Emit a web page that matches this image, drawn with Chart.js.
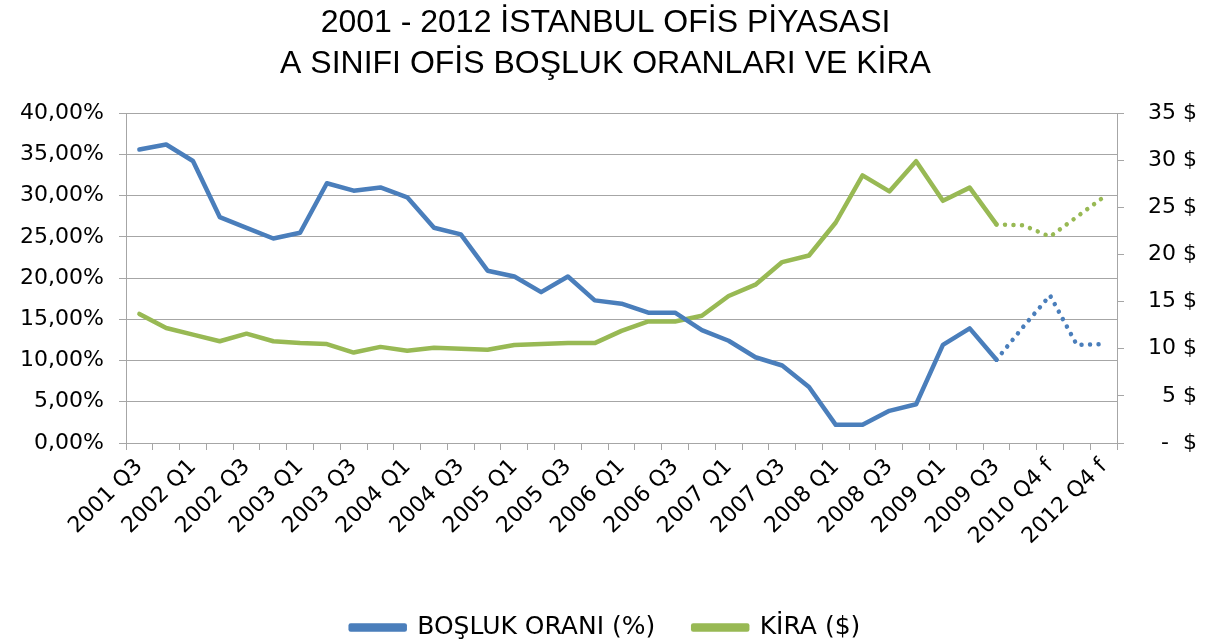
<!DOCTYPE html>
<html>
<head>
<meta charset="utf-8">
<script src="https://cdn.jsdelivr.net/npm/chart.js@4.4.1/dist/chart.umd.min.js"></script>
<style>
  html, body { margin: 0; padding: 0; background: #fff; }
  #wrap { width: 1211px; height: 641px; }
</style>
</head>
<body>
<div id="wrap"><canvas id="chart" width="1211" height="641"></canvas></div>
<script>
// quarters (every other label is shown on the axis)
const quarters = [
  '2001 Q3', '2001 Q4', '2002 Q1', '2002 Q2', '2002 Q3', '2002 Q4',
  '2003 Q1', '2003 Q2', '2003 Q3', '2003 Q4', '2004 Q1', '2004 Q2',
  '2004 Q3', '2004 Q4', '2005 Q1', '2005 Q2', '2005 Q3', '2005 Q4',
  '2006 Q1', '2006 Q2', '2006 Q3', '2006 Q4', '2007 Q1', '2007 Q2',
  '2007 Q3', '2007 Q4', '2008 Q1', '2008 Q2', '2008 Q3', '2008 Q4',
  '2009 Q1', '2009 Q2', '2009 Q3', '2009 Q4 f', '2010 Q4 f', '2011 Q4 f',
  '2012 Q4 f'
];

// BOŞLUK ORANI (%) - left axis
const vacancy = [
  35.6, 36.2, 34.2, 27.4, 26.1, 24.8, 25.5, 31.5, 30.6, 31.0, 29.8, 26.1,
  25.3, 20.9, 20.2, 18.3, 20.2, 17.3, 16.9, 15.8, 15.8, 13.7, 12.4, 10.4,
  9.4, 6.8, 2.2, 2.2, 3.9, 4.7, 11.9, 13.9, 10.1, 14.1, 17.9, 11.9, 12.0
];

// KİRA ($) - right axis
const rent = [
  13.7, 12.2, 11.5, 10.8, 11.6, 10.8, 10.6, 10.5, 9.6, 10.2, 9.8, 10.1,
  10.0, 9.9, 10.4, 10.5, 10.6, 10.6, 11.9, 12.9, 12.9, 13.5, 15.6, 16.8,
  19.2, 19.9, 23.4, 28.4, 26.7, 29.9, 25.7, 27.1, 23.2, 23.1, 21.9, 24.0, 26.1
];

// forecast part is drawn dotted
const forecastFrom = 32;

const titleLines = [
  '2001 - 2012 İSTANBUL OFİS PİYASASI',
  'A SINIFI OFİS BOŞLUK ORANLARI VE KİRA'
];

const blue = '#4a7ebb';
const green = '#98b954';
const gridCol = '#a6a6a6';
const tickFont = { family: 'DejaVu Sans', size: 22 };

const dotted = c => c.p0DataIndex >= forecastFrom ? [0.01, 8.5] : undefined;

const ctx = document.getElementById('chart').getContext('2d');
new Chart(ctx, {
  type: 'line',
  data: {
    labels: quarters,
    datasets: [
      {
        label: 'BOŞLUK ORANI (%)',
        data: vacancy,
        yAxisID: 'y',
        borderColor: blue,
        backgroundColor: blue,
        borderWidth: 4.5,
        pointRadius: 0,
        borderJoinStyle: 'round',
        borderCapStyle: 'round',
        segment: { borderDash: dotted }
      },
      {
        label: 'KİRA ($)',
        data: rent,
        yAxisID: 'y1',
        borderColor: green,
        backgroundColor: green,
        borderWidth: 4.5,
        pointRadius: 0,
        borderJoinStyle: 'round',
        borderCapStyle: 'round',
        segment: { borderDash: dotted }
      }
    ]
  },
  options: {
    responsive: false,
    animation: false,
    layout: { padding: { left: 0, right: 0, top: 0, bottom: -9 } },
    plugins: {
      tooltip: { enabled: false },
      title: {
        display: true,
        text: titleLines,
        color: '#000',
        font: { family: 'Liberation Sans', size: 32, weight: 'normal', lineHeight: 1.3 },
        padding: { top: 2, bottom: 28 }
      },
      legend: {
        position: 'bottom',
        labels: {
          color: '#000',
          font: { family: 'DejaVu Sans', size: 25 },
          boxWidth: 54,
          boxHeight: 4,
          padding: 38
        }
      }
    },
    scales: {
      x: {
        offset: true,
        grid: { offset: true, drawOnChartArea: false, tickLength: 7, color: gridCol },
        border: { color: gridCol },
        ticks: {
          autoSkip: false,
          maxRotation: 45,
          minRotation: 45,
          padding: 4,
          color: '#000',
          font: tickFont,
          callback: (v, i) => i % 2 === 0 ? quarters[i] : ''
        },
        afterFit: s => { s.height = 134; }
      },
      y: {
        position: 'left',
        min: 0,
        max: 40,
        grid: { color: gridCol, tickLength: 7 },
        border: { color: gridCol },
        ticks: {
          stepSize: 5,
          padding: 15,
          color: '#000',
          font: tickFont,
          callback: v => v.toFixed(2).replace('.', ',') + '%'
        },
        afterFit: s => { s.width = 126; }
      },
      y1: {
        position: 'right',
        min: 0,
        max: 35,
        grid: { drawOnChartArea: false, color: gridCol, tickLength: 7 },
        border: { color: gridCol },
        ticks: {
          stepSize: 5,
          padding: 8,
          crossAlign: 'far',
          color: '#000',
          font: tickFont,
          // trailing spaces keep the right-aligned labels off the edge
          callback: v => (v === 0 ? '-  $' : v + ' $') + '  '
        },
        afterFit: s => { s.width = 94; }
      }
    }
  }
});
</script>
</body>
</html>
